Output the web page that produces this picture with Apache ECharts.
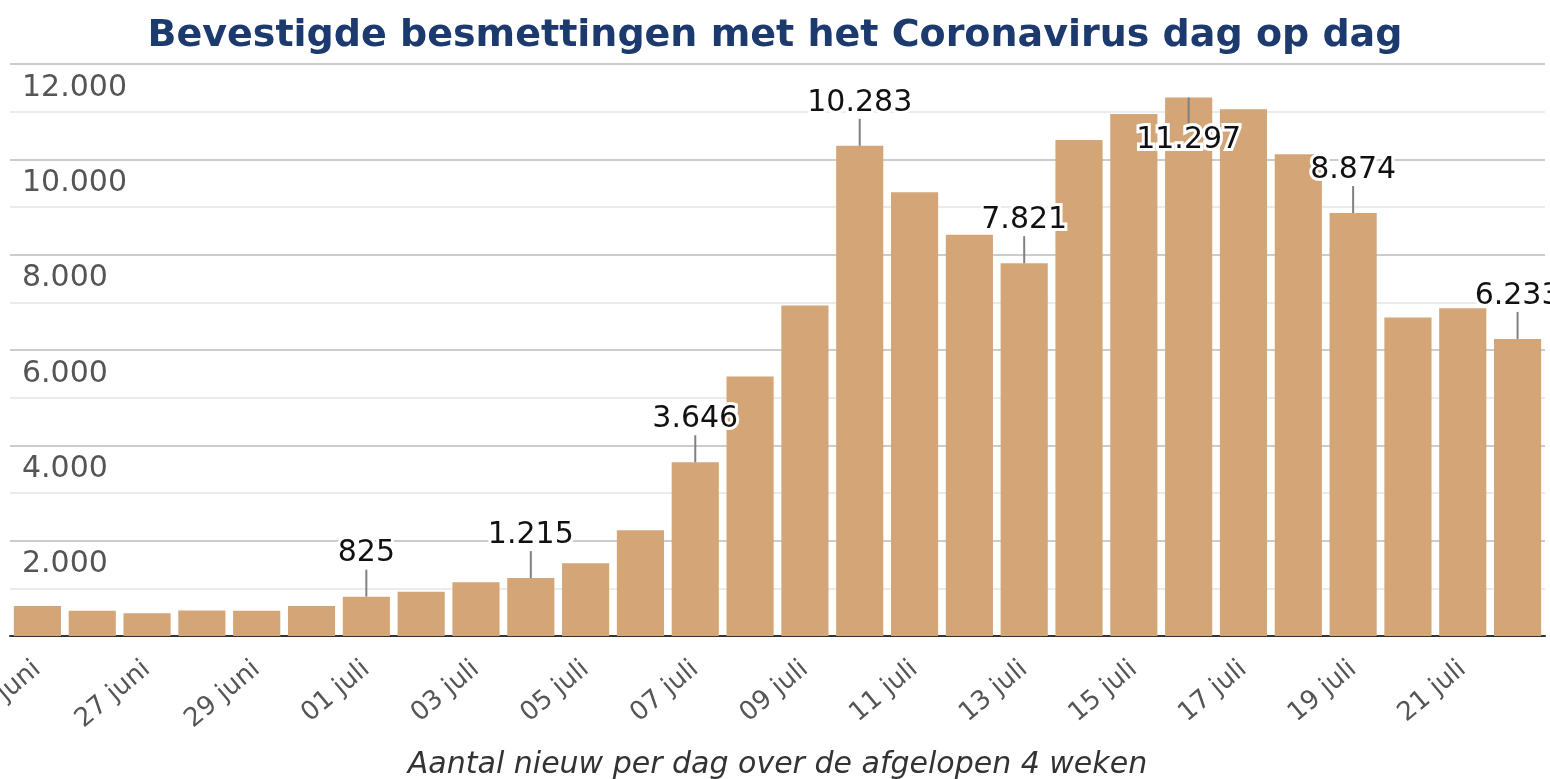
<!DOCTYPE html>
<html>
<head>
<meta charset="utf-8">
<script src="https://cdn.jsdelivr.net/npm/echarts@6/dist/echarts.min.js"></script>
<style>
html,body{margin:0;padding:0;background:#fff;}
#c{width:1550px;height:779px;}
</style>
</head>
<body>
<div id="c"></div>
<script>
var titleText = 'Bevestigde besmettingen met het Coronavirus dag op dag';
var xAxisTitle = 'Aantal nieuw per dag over de afgelopen 4 weken';
var days = ['25 juni','26 juni','27 juni','28 juni','29 juni','30 juni',
  '01 juli','02 juli','03 juli','04 juli','05 juli','06 juli','07 juli','08 juli',
  '09 juli','10 juli','11 juli','12 juli','13 juli','14 juli','15 juli','16 juli',
  '17 juli','18 juli','19 juli','20 juli','21 juli','22 juli'];
var cases = [630, 531, 476, 534, 528, 630,
  825, 930, 1127, 1215, 1526, 2218, 3646, 5442,
  6932, 10283, 9311, 8416, 7821, 10403, 10952, 11297,
  11053, 10109, 8874, 6680, 6877, 6233];
var labeledDays = [6, 9, 12, 15, 18, 21, 24, 27];
var yTicks = [0, 2000, 4000, 6000, 8000, 10000, 12000];

function nl(v){ return String(Math.round(v)).replace(/\B(?=(\d{3})+(?!\d))/g, '.'); }

var labelData = labeledDays.map(function(i){ return [i, cases[i]]; });
var FONT = '30px "DejaVu Sans"';

var chart = echarts.init(document.getElementById('c'), null, {renderer:'canvas'});
chart.setOption({
  animation: false,
  backgroundColor: '#fff',
  title: {
    text: titleText, left: 'center', top: 12,
    textStyle: {fontFamily: 'DejaVu Sans', fontSize: 38, fontWeight: 'bold', color: '#1c3a6d'}
  },
  grid: {left: 10, right: 5, top: 64, bottom: 143, containLabel: false, outerBoundsMode: 'none'},
  xAxis: {
    type: 'category', data: days,
    name: xAxisTitle, nameLocation: 'middle', nameGap: 114,
    nameTextStyle: {fontFamily: 'DejaVu Sans', fontSize: 30, fontStyle: 'italic', color: '#333'},
    axisLine: {lineStyle: {color: '#333', width: 2}},
    axisTick: {show: false},
    axisLabel: {interval: 1, rotate: 40, margin: 30, fontFamily: 'DejaVu Sans', fontSize: 26, color: '#555'}
  },
  yAxis: {
    type: 'value', min: yTicks[0], max: yTicks[yTicks.length-1], interval: yTicks[1]-yTicks[0],
    axisLine: {show: false}, axisTick: {show: false},
    axisLabel: {
      inside: true, margin: 12, verticalAlign: 'top', padding: [9,0,0,0],
      fontFamily: 'DejaVu Sans', fontSize: 30, color: '#555',
      formatter: function(v){ return v === 0 ? '' : nl(v); }
    },
    splitLine: {lineStyle: {color: '#cccccc', width: 2}},
    minorTick: {show: false, splitNumber: 2},
    minorSplitLine: {show: true, lineStyle: {color: '#ebebeb', width: 2}}
  },
  series: [{
    type: 'bar', data: cases, barCategoryGap: '14%',
    itemStyle: {color: '#d3a577'}, z: 2
  }, {
    type: 'custom', data: labelData, z: 5, clip: false,
    renderItem: function(params, api){
      var idx = api.value(0), val = api.value(1);
      var p = api.coord([idx, val]);
      var gridTop = params.coordSys.y;
      var lineLen = 27, textH = 26;
      var above = (p[1] - lineLen - 4 - textH) >= gridTop;
      var dir = above ? -1 : 1;
      var yEnd = p[1] + dir * lineLen;
      var ty = yEnd + dir * 1;
      var va = above ? 'bottom' : 'top';
      return {type: 'group', children: [
        {type: 'line', shape: {x1: p[0], y1: p[1], x2: p[0], y2: yEnd},
         style: {stroke: '#808080', lineWidth: 2}},
        {type: 'text', style: {text: nl(val), x: p[0], y: ty, align: 'center', verticalAlign: va,
          font: FONT, fill: '#fff', stroke: '#fff', lineWidth: 6}},
        {type: 'text', style: {text: nl(val), x: p[0], y: ty, align: 'center', verticalAlign: va,
          font: FONT, fill: '#111'}}
      ]};
    }
  }]
});
</script>
</body>
</html>
